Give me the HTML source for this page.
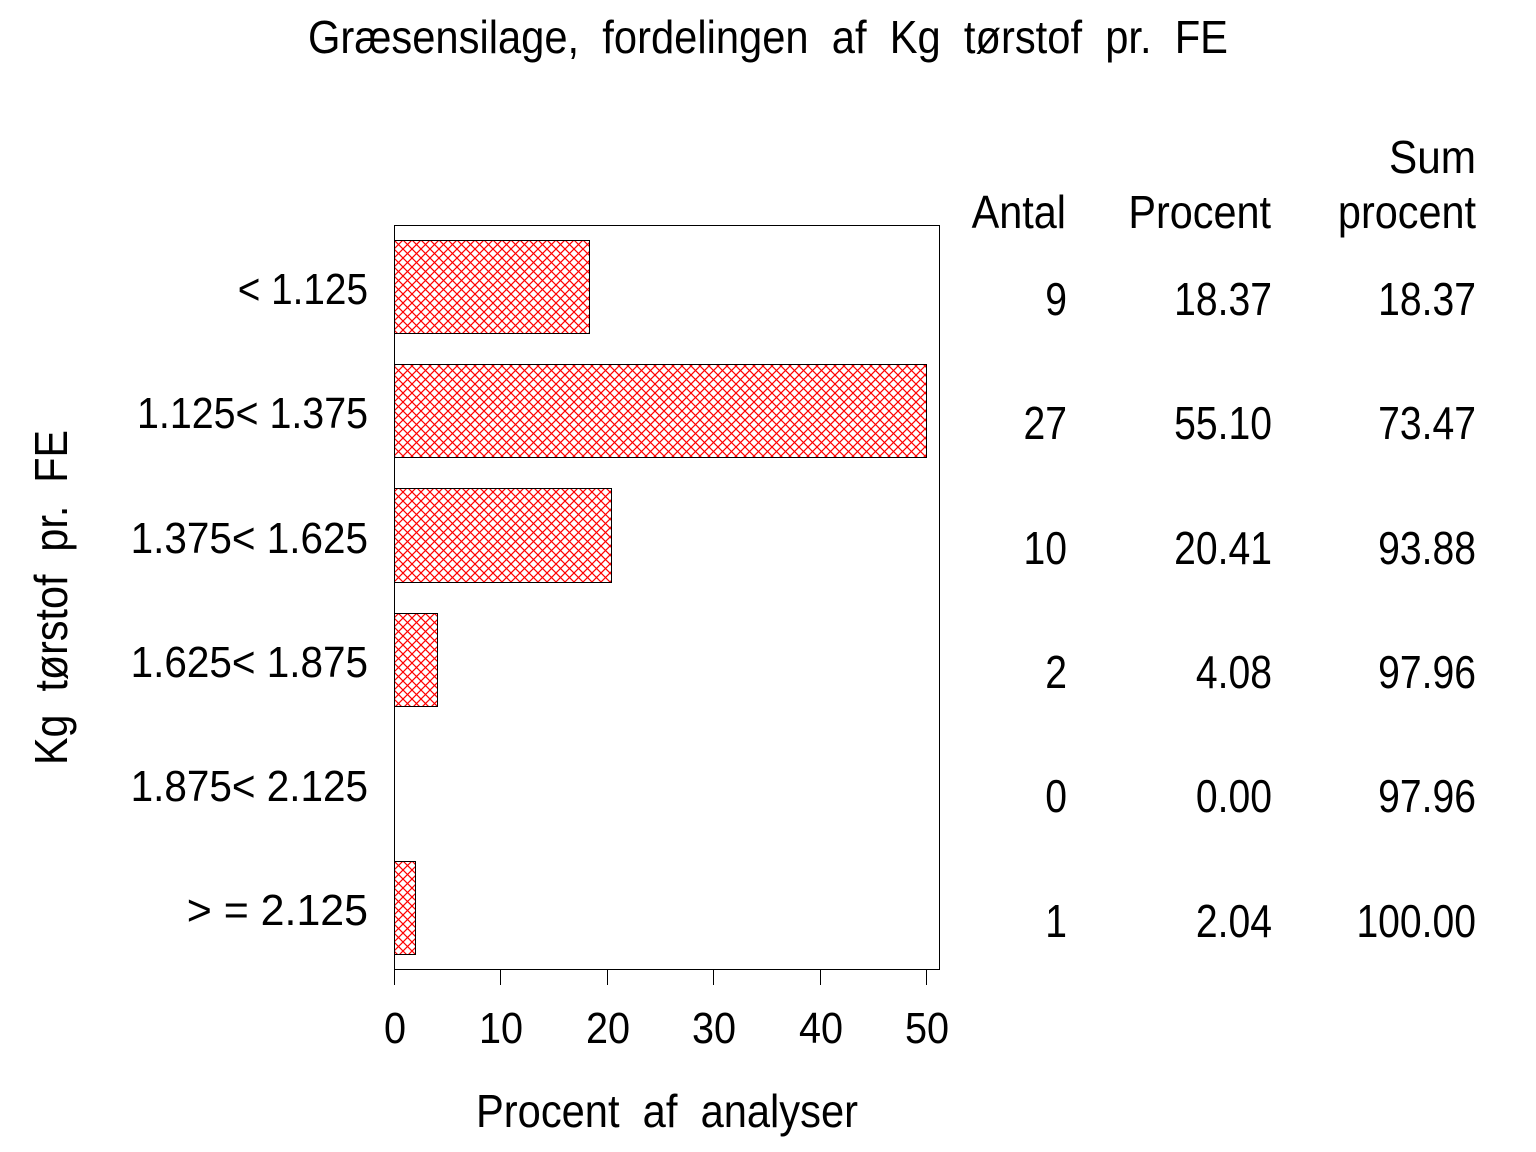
<!DOCTYPE html>
<html>
<head>
<meta charset="utf-8">
<style>
html,body{margin:0;padding:0;background:#fff;}
svg{display:block;}
text{font-family:"Liberation Sans",Arial,sans-serif;fill:#000;white-space:pre;}
</style>
</head>
<body>
<svg width="1536" height="1152" viewBox="0 0 1536 1152" xmlns="http://www.w3.org/2000/svg">
<defs>
<pattern id="h" patternUnits="userSpaceOnUse" x="394" y="240" width="9" height="9">
<path d="M0,0 L9,9 M9,0 L0,9" stroke="#ff0000" stroke-width="1.2" fill="none"/>
</pattern>
</defs>
<rect width="1536" height="1152" fill="#fff"/>

<!-- Title -->
<text x="308" y="53" font-size="46" textLength="920" lengthAdjust="spacingAndGlyphs">Græsensilage,  fordelingen  af  Kg  tørstof  pr.  FE</text>

<!-- Y axis label -->
<text transform="translate(67,765) rotate(-90)" font-size="46" textLength="335" lengthAdjust="spacingAndGlyphs">Kg  tørstof  pr.  FE</text>

<!-- Bars -->
<g stroke="#000" stroke-width="1" shape-rendering="crispEdges">
<rect x="394.5" y="240.5" width="195" height="93" fill="url(#h)"/>
<rect x="394.5" y="364.5" width="532" height="93" fill="url(#h)"/>
<rect x="394.5" y="488.5" width="217" height="94" fill="url(#h)"/>
<rect x="394.5" y="613.5" width="43" height="93" fill="url(#h)"/>
<rect x="394.5" y="861.5" width="21" height="93" fill="url(#h)"/>
</g>

<!-- Frame -->
<rect x="394.5" y="225.5" width="545" height="744" fill="none" stroke="#000" stroke-width="1" shape-rendering="crispEdges"/>

<!-- Ticks -->
<g stroke="#000" stroke-width="1" shape-rendering="crispEdges">
<line x1="394.5" y1="970" x2="394.5" y2="985"/>
<line x1="500.5" y1="970" x2="500.5" y2="985"/>
<line x1="607.5" y1="970" x2="607.5" y2="985"/>
<line x1="713.5" y1="970" x2="713.5" y2="985"/>
<line x1="820.5" y1="970" x2="820.5" y2="985"/>
<line x1="926.5" y1="970" x2="926.5" y2="985"/>
</g>

<!-- Tick labels -->
<g font-size="44" text-anchor="middle">
<text transform="translate(395,1043) scale(0.9,1)">0</text>
<text transform="translate(501,1043) scale(0.9,1)">10</text>
<text transform="translate(608,1043) scale(0.9,1)">20</text>
<text transform="translate(714,1043) scale(0.9,1)">30</text>
<text transform="translate(821,1043) scale(0.9,1)">40</text>
<text transform="translate(927,1043) scale(0.9,1)">50</text>
</g>

<!-- X axis label -->
<text x="476" y="1127" font-size="46" textLength="382" lengthAdjust="spacingAndGlyphs">Procent  af  analyser</text>

<!-- Category labels -->
<g font-size="44" text-anchor="end">
<text transform="translate(368,304) scale(0.88,1)">&lt; 1.125</text>
<text transform="translate(368,428) scale(0.895,1)">1.125&lt; 1.375</text>
<text transform="translate(368,553) scale(0.92,1)">1.375&lt; 1.625</text>
<text transform="translate(368,677) scale(0.92,1)">1.625&lt; 1.875</text>
<text transform="translate(368,801) scale(0.92,1)">1.875&lt; 2.125</text>
<text transform="translate(368,925) scale(0.975,1)">&gt; = 2.125</text>
</g>

<!-- Table headers -->
<g font-size="46" text-anchor="end">
<text transform="translate(1476,173) scale(0.92,1)">Sum</text>
<text transform="translate(1066,228) scale(0.9,1)">Antal</text>
<text transform="translate(1271,228) scale(0.9,1)">Procent</text>
<text transform="translate(1476,228) scale(0.9,1)">procent</text>
</g>

<!-- Table rows -->
<g font-size="46" text-anchor="end">
<text transform="translate(1067,315) scale(0.85,1)">9</text>
<text transform="translate(1272,315) scale(0.85,1)">18.37</text>
<text transform="translate(1476,315) scale(0.85,1)">18.37</text>

<text transform="translate(1067,439) scale(0.85,1)">27</text>
<text transform="translate(1272,439) scale(0.85,1)">55.10</text>
<text transform="translate(1476,439) scale(0.85,1)">73.47</text>

<text transform="translate(1067,564) scale(0.85,1)">10</text>
<text transform="translate(1272,564) scale(0.85,1)">20.41</text>
<text transform="translate(1476,564) scale(0.85,1)">93.88</text>

<text transform="translate(1067,688) scale(0.85,1)">2</text>
<text transform="translate(1272,688) scale(0.85,1)">4.08</text>
<text transform="translate(1476,688) scale(0.85,1)">97.96</text>

<text transform="translate(1067,812) scale(0.85,1)">0</text>
<text transform="translate(1272,812) scale(0.85,1)">0.00</text>
<text transform="translate(1476,812) scale(0.85,1)">97.96</text>

<text transform="translate(1067,937) scale(0.85,1)">1</text>
<text transform="translate(1272,937) scale(0.85,1)">2.04</text>
<text transform="translate(1476,937) scale(0.85,1)">100.00</text>
</g>
</svg>
</body>
</html>
